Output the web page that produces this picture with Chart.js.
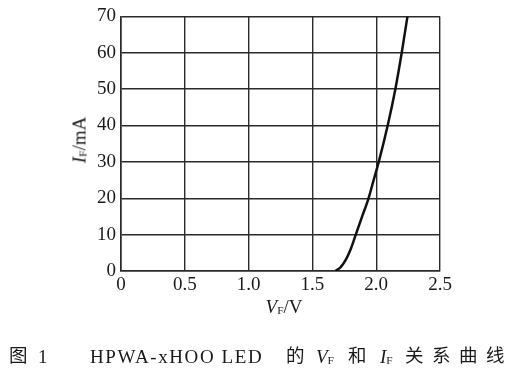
<!DOCTYPE html>
<html>
<head>
<meta charset="utf-8">
<script src="https://cdn.jsdelivr.net/npm/chart.js@4/dist/chart.umd.min.js"></script>
<style>
  html, body { margin: 0; padding: 0; background: #fff; }
  #wrap { position: relative; width: 526px; height: 375px; overflow: hidden; }
  #wrap canvas { position: absolute; left: 0; top: 0; }
  .t { position: absolute; font-family: "Liberation Serif", "DejaVu Serif", serif; color: #1a1a1a; white-space: nowrap; line-height: 1; }
  .t sub { font-size: 0.6em; vertical-align: baseline; position: relative; top: 0.1em; font-style: normal; }
  .cjk { font-family: "Noto Sans CJK SC", sans-serif; font-size: 18.5px; }
</style>
</head>
<body>
<div id="wrap">
  <canvas id="c" width="526" height="375"></canvas>
  <div class="t" id="ytitle" style="font-size:19px; left:79px; top:140px; transform: translate(-50%,-50%) rotate(-90deg);"><i>I</i><sub>F</sub>/mA</div>
  <div class="t" id="xtitle" style="font-size:19px; left:284px; top:306px; transform: translate(-50%,-50%);"><i>V</i><sub>F</sub>/V</div>
  <div class="t cjk" style="left:9px; top:345px;">图</div>
  <div class="t" style="font-size:19px; left:38px; top:347px;">1</div>
  <div class="t" style="font-size:19px; left:90px; top:347px; letter-spacing:1.6px;">HPWA-xHOO LED</div>
  <div class="t cjk" style="left:286px; top:345px;">的</div>
  <div class="t" style="font-size:19px; left:316px; top:347px;"><i>V</i><sub>F</sub></div>
  <div class="t cjk" style="left:348px; top:345px;">和</div>
  <div class="t" style="font-size:19px; left:380px; top:347px;"><i>I</i><sub>F</sub></div>
  <div class="t cjk" style="left:405px; top:345px; letter-spacing:8.5px;">关系曲线</div>
</div>
<script>
const vfValues = [1.68, 1.72, 1.76, 1.80, 1.84, 1.89, 1.94, 1.98, 2.02, 2.09, 2.15, 2.20, 2.245];
const ifValues = [0, 1, 3, 6, 10, 15, 20, 25, 30, 40, 50, 60, 70];
const xTicks = [0, 0.5, 1.0, 1.5, 2.0, 2.5];
const yTicks = [0, 10, 20, 30, 40, 50, 60, 70];

const points = vfValues.map((v, i) => ({ x: v, y: ifValues[i] }));
const tickFont = { family: "Liberation Serif", size: 19 };
const gridCol = '#2a2a2a';

new Chart(document.getElementById('c'), {
  type: 'scatter',
  data: {
    datasets: [{
      data: points,
      showLine: true,
      borderColor: '#111',
      borderWidth: 2.5,
      pointRadius: 0,
      cubicInterpolationMode: 'monotone',
      fill: false
    }]
  },
  options: {
    responsive: false,
    animation: false,
    events: [],
    layout: { padding: { left: 0, top: 15, right: 86, bottom: 74 } },
    plugins: { legend: { display: false }, tooltip: { enabled: false } },
    scales: {
      x: {
        type: 'linear',
        min: 0, max: 2.5,
        afterBuildTicks: s => { s.ticks = xTicks.map(v => ({ value: v })); },
        afterFit: s => { s.height = 30; },
        ticks: {
          font: tickFont, color: '#1a1a1a', padding: 3, maxRotation: 0,
          callback: v => v === 0 ? '0' : Number(v).toFixed(1)
        },
        grid: { color: gridCol, lineWidth: 1.4, drawTicks: false },
        border: { display: true, color: gridCol, width: 1.6 }
      },
      y: {
        min: 0, max: 70,
        afterBuildTicks: s => { s.ticks = yTicks.map(v => ({ value: v })); },
        afterFit: s => { s.width = 121; },
        ticks: { font: tickFont, color: '#1a1a1a', padding: 5 },
        grid: { color: gridCol, lineWidth: 1.4, drawTicks: false },
        border: { display: true, color: gridCol, width: 1.6 }
      }
    }
  }
});
</script>
</body>
</html>
